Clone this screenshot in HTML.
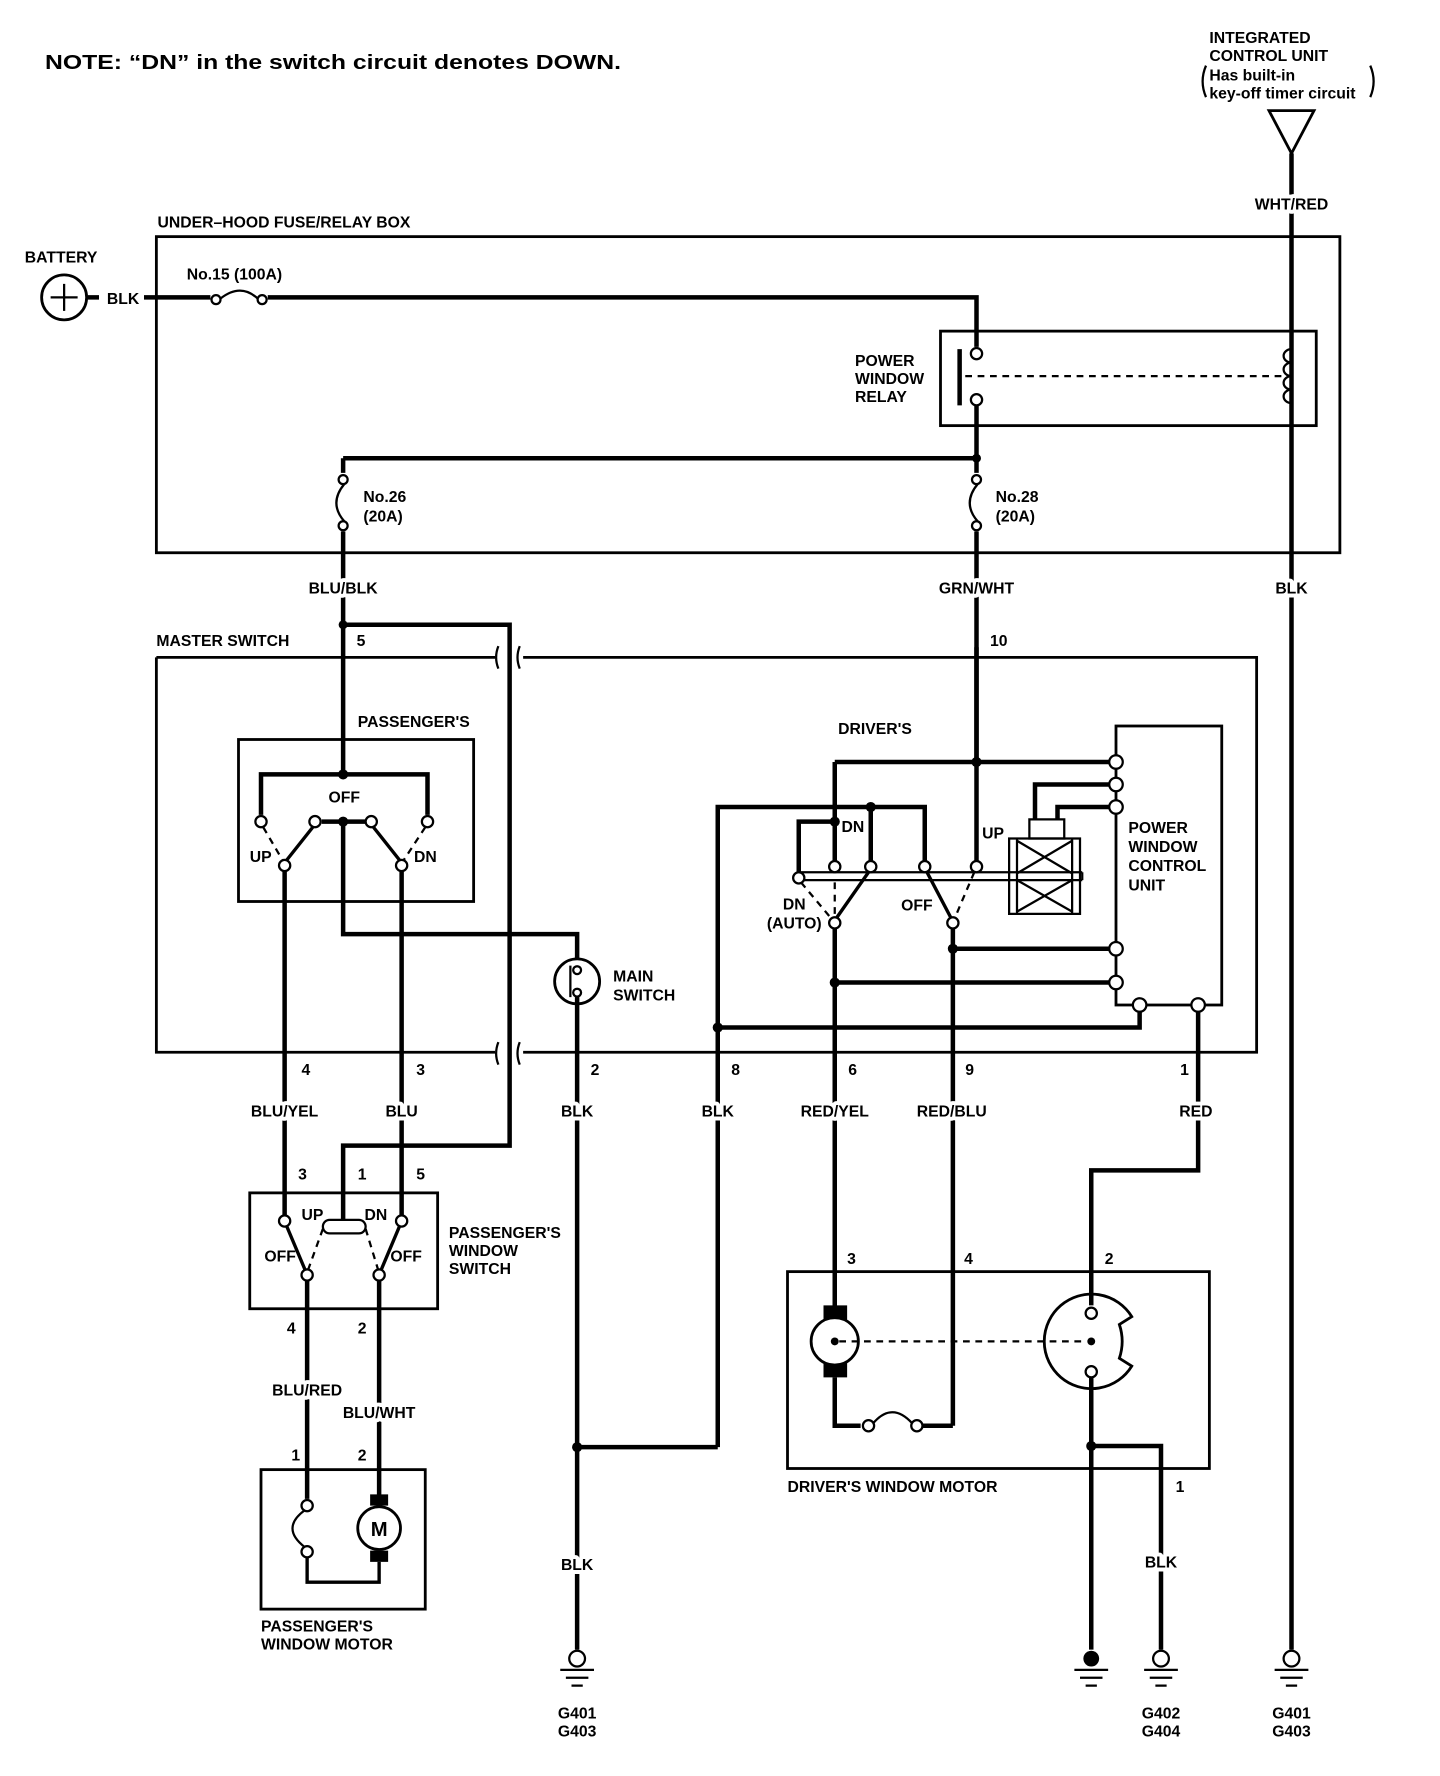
<!DOCTYPE html>
<html><head><meta charset="utf-8"><style>
html,body{margin:0;padding:0;background:#fff;}
svg{display:block;}
text{font-family:"Liberation Sans",sans-serif;font-size:14px;font-weight:bold;fill:#000;}
.h{stroke:#fff;stroke-width:7px;paint-order:stroke;stroke-linejoin:round;}
.w{stroke:#000;stroke-width:4;fill:none;}
.b{stroke:#000;stroke-width:2.5;fill:none;}
.t{stroke:#000;stroke-width:2;fill:none;}
.d{stroke:#000;stroke-width:2;fill:none;stroke-dasharray:6,5;}
.c{stroke:#000;stroke-width:2;fill:#fff;}
.m{text-anchor:middle;}
</style></head><body>
<svg width="1440" height="1776" viewBox="0 0 1280 1578" xmlns="http://www.w3.org/2000/svg">
<text x="40" y="61" style="font-size:18px" textLength="512" lengthAdjust="spacingAndGlyphs">NOTE:  “DN” in the switch circuit denotes DOWN.</text>
<text x="1075" y="38">INTEGRATED</text>
<text x="1075" y="54">CONTROL UNIT</text>
<text x="1075" y="71">Has built-in</text>
<text x="1075" y="87">key-off timer circuit</text>
<path class="t" d="M1072,58 q-6,14 0,28 M1218,58 q6,14 0,28"/>
<path class="b" d="M1128,98 L1168,98 L1148,136 Z"/>
<path class="w" d="M1148,136 V1466"/>
<text x="1148" y="186" class="m h">WHT/RED</text>
<text x="140" y="202">UNDER–HOOD FUSE/RELAY BOX</text>
<rect x="139" y="210" width="1052" height="281" class="b"/>
<text x="22" y="233">BATTERY</text>
<circle cx="57" cy="264" r="20" class="b"/>
<path class="t" d="M45,264 H69 M57,252 V276"/>
<path class="w" d="M78,264 H88 M128,264 H187 M238,264 H868 V308"/>
<text x="95" y="270">BLK</text>
<text x="166" y="248">No.15 (100A)</text>
<circle cx="192" cy="266" r="4" class="c"/><circle cx="233" cy="266" r="4" class="c"/>
<path class="t" d="M196,265 q18,-14 33,0"/>
<rect x="836" y="294" width="334" height="84" class="b"/>
<text x="760" y="325">POWER</text><text x="760" y="341">WINDOW</text><text x="760" y="357">RELAY</text>
<circle cx="868" cy="314" r="5" class="c"/><circle cx="868" cy="355" r="5" class="c"/>
<path class="w" d="M853,310 V360"/>
<path class="d" d="M858,334 H1140"/>
<path class="t" d="M1148,310 a7,6 0 1 0 0,12 a7,6 0 1 0 0,12 a7,6 0 1 0 0,12 a7,6 0 1 0 0,12"/>
<path class="w" d="M868,360 V420 M305,407 H868 M305,407 V420 M305,472 V688 M868,472 V677"/>
<circle cx="868" cy="407" r="4"/>
<circle cx="305" cy="426" r="4" class="c"/><circle cx="305" cy="467" r="4" class="c"/>
<path class="t" d="M306,430 q-14,17 0,33"/>
<circle cx="868" cy="426" r="4" class="c"/><circle cx="868" cy="467" r="4" class="c"/>
<path class="t" d="M869,430 q-14,17 0,33"/>
<text x="323" y="446">No.26</text><text x="323" y="463">(20A)</text>
<text x="885" y="446">No.28</text><text x="885" y="463">(20A)</text>
<text x="305" y="527" class="m h">BLU/BLK</text>
<text x="868" y="527" class="m h">GRN/WHT</text>
<text x="1148" y="527" class="m h">BLK</text>
<text x="139" y="574">MASTER SWITCH</text>
<text x="317" y="574">5</text><text x="880" y="574">10</text>
<path class="b" d="M139,584 H440 M465,584 H1117 V935 H465 M440,935 H139 V584"/>
<path class="t" d="M443,574 q-4,10 0,20 M462,574 q-4,10 0,20 M443,926 q-4,10 0,20 M462,926 q-4,10 0,20"/>
<circle cx="305" cy="555" r="4"/>
<path class="w" d="M305,555 H453 V1018 H305 V1090"/>
<text x="318" y="646">PASSENGER'S</text>
<rect x="212" y="657" width="209" height="144" class="b"/>
<path class="w" d="M232,724 V688 H380 V724 M286,730 H325 M305,730 V830 H513 V852"/>
<circle cx="305" cy="688" r="4.5"/><circle cx="305" cy="730" r="4.5"/>
<circle cx="232" cy="730" r="5" class="c"/><circle cx="280" cy="730" r="5" class="c"/>
<circle cx="330" cy="730" r="5" class="c"/><circle cx="380" cy="730" r="5" class="c"/>
<path class="w" style="stroke-width:3" d="M278,735 L255,764 M332,735 L355,764"/>
<path class="d" d="M234,735 L251,764 M378,735 L359,764"/>
<circle cx="253" cy="769" r="5" class="c"/><circle cx="357" cy="769" r="5" class="c"/>
<text x="306" y="713" class="m">OFF</text><text x="222" y="766">UP</text><text x="368" y="766">DN</text>
<path class="w" d="M253,774 V1080 M357,774 V1080"/>
<circle cx="513" cy="872" r="20" class="b"/>
<circle cx="513" cy="862" r="3.5" class="c"/><circle cx="513" cy="882" r="3.5" class="c"/>
<path class="t" d="M507,858 V886"/>
<path class="w" d="M513,886 V1466"/>
<text x="545" y="872">MAIN</text><text x="545" y="889">SWITCH</text>
<text x="745" y="652">DRIVER'S</text>
<rect x="992" y="645" width="94" height="248" class="b"/>
<text x="1003" y="740">POWER</text><text x="1003" y="757">WINDOW</text><text x="1003" y="774">CONTROL</text><text x="1003" y="791">UNIT</text>
<path class="w" d="M868,575 V765 M742,677 H988 M742,677 V765 M710,776 V730 H742 M638,1286 V717 H822 V765 M774,717 V765"/>
<circle cx="868" cy="677" r="4.5"/><circle cx="742" cy="730" r="4.5"/><circle cx="774" cy="717" r="4.5"/>
<path class="w" d="M988,697 H920 V728 M988,717 H940 V728"/>
<rect x="915" y="728" width="31" height="17" class="t"/>
<rect x="897" y="745" width="63" height="67" class="t"/>
<path class="t" d="M904,745 V812 M953,745 V812 M904,747 L953,776 M953,747 L904,776 M904,782 L953,810 M953,782 L904,810"/>
<path class="t" d="M712,775 H962 M712,782 H962 M962,775 V782"/>
<circle cx="710" cy="780" r="5" class="c"/><circle cx="742" cy="770" r="5" class="c"/>
<circle cx="774" cy="770" r="5" class="c"/><circle cx="822" cy="770" r="5" class="c"/>
<circle cx="868" cy="770" r="5" class="c"/>
<path class="w" style="stroke-width:3" d="M772,775 L744,815 M824,775 L845,815"/>
<path class="d" d="M712,784 L738,815 M742,784 V812 M866,775 L849,815"/>
<circle cx="742" cy="820" r="5" class="c"/><circle cx="847" cy="820" r="5" class="c"/>
<text x="748" y="739">DN</text><text x="873" y="745">UP</text><text x="801" y="809">OFF</text>
<text x="706" y="808" class="m">DN</text><text x="706" y="825" class="m">(AUTO)</text>
<path class="w" d="M742,825 V1165 M742,873 H988 M847,825 V1267 M847,843 H988 M638,913 H1013 V898 M1065,898 V1040 H970 V1160"/>
<circle cx="742" cy="873" r="4.5"/><circle cx="847" cy="843" r="4.5"/><circle cx="638" cy="913" r="4.5"/>
<circle cx="992" cy="677" r="6" class="c"/><circle cx="992" cy="697" r="6" class="c"/><circle cx="992" cy="717" r="6" class="c"/>
<circle cx="992" cy="843" r="6" class="c"/><circle cx="992" cy="873" r="6" class="c"/>
<circle cx="1013" cy="893" r="6" class="c"/><circle cx="1065" cy="893" r="6" class="c"/>
<text x="268" y="955">4</text><text x="370" y="955">3</text><text x="525" y="955">2</text><text x="650" y="955">8</text>
<text x="754" y="955">6</text><text x="858" y="955">9</text><text x="1049" y="955">1</text>
<text x="253" y="992" class="m h">BLU/YEL</text><text x="357" y="992" class="m h">BLU</text><text x="513" y="992" class="m h">BLK</text>
<text x="638" y="992" class="m h">BLK</text><text x="742" y="992" class="m h">RED/YEL</text><text x="846" y="992" class="m h">RED/BLU</text><text x="1063" y="992" class="m h">RED</text>
<text x="265" y="1048">3</text><text x="318" y="1048">1</text><text x="370" y="1048">5</text>
<rect x="222" y="1060" width="167" height="103" class="b"/>
<text x="399" y="1100">PASSENGER'S</text><text x="399" y="1116">WINDOW</text><text x="399" y="1132">SWITCH</text>
<rect x="287" y="1084" width="38" height="12" rx="6" class="t" style="fill:#fff"/>
<circle cx="253" cy="1085" r="5" class="c"/><circle cx="357" cy="1085" r="5" class="c"/>
<path class="w" style="stroke-width:3" d="M255,1090 L271,1128 M355,1090 L339,1128"/>
<path class="d" d="M287,1092 L274,1128 M325,1092 L336,1128"/>
<circle cx="273" cy="1133" r="5" class="c"/><circle cx="337" cy="1133" r="5" class="c"/>
<text x="268" y="1084">UP</text><text x="324" y="1084">DN</text><text x="235" y="1121">OFF</text><text x="347" y="1121">OFF</text>
<text x="255" y="1185">4</text><text x="318" y="1185">2</text>
<path class="w" d="M273,1138 V1332 M337,1138 V1338"/>
<text x="273" y="1240" class="m h">BLU/RED</text><text x="337" y="1260" class="m h">BLU/WHT</text>
<text x="259" y="1298">1</text><text x="318" y="1298">2</text>
<rect x="232" y="1306" width="146" height="124" class="b"/>
<circle cx="273" cy="1338" r="5" class="c"/><circle cx="273" cy="1379" r="5" class="c"/>
<path class="t" d="M271,1342 q-22,16 0,33"/>
<rect x="329" y="1328" width="16" height="10" fill="#000"/><rect x="329" y="1378" width="16" height="10" fill="#000"/>
<circle cx="337" cy="1358" r="19" class="b" style="fill:#fff"/>
<text x="337" y="1365" class="m" style="font-size:18px">M</text>
<path class="w" style="stroke-width:3" d="M337,1388 V1406 H273 V1384"/>
<text x="232" y="1450">PASSENGER'S</text><text x="232" y="1466">WINDOW MOTOR</text>
<text x="753" y="1123">3</text><text x="857" y="1123">4</text><text x="982" y="1123">2</text>
<rect x="700" y="1130" width="375" height="175" class="b"/>
<rect x="732" y="1160" width="21" height="14" fill="#000"/><rect x="732" y="1210" width="21" height="14" fill="#000"/>
<circle cx="742" cy="1192" r="21" class="b" style="fill:#fff"/>
<circle cx="742" cy="1192" r="3.5"/>
<path class="d" d="M746,1192 H966"/>
<path class="w" d="M742,1224 V1267 H765 M820,1267 H847"/>
<circle cx="772" cy="1267" r="5" class="c"/><circle cx="815" cy="1267" r="5" class="c"/>
<path class="t" d="M776,1265 q17,-20 35,0"/>
<path class="b" d="M1006,1170 A42,42 0 1 0 1006,1214 L995,1207 Q1000,1192 995,1177 Z" style="fill:none"/>
<circle cx="970" cy="1192" r="3.5"/>
<circle cx="970" cy="1167" r="5" class="c"/><circle cx="970" cy="1219" r="5" class="c"/>
<path class="w" d="M970,1224 V1466 M970,1285 H1032 V1466 M513,1286 H638"/>
<circle cx="970" cy="1285" r="4.5"/><circle cx="513" cy="1286" r="4.5"/>
<text x="700" y="1326">DRIVER'S WINDOW MOTOR</text>
<text x="1045" y="1326">1</text>
<text x="513" y="1395" class="m h">BLK</text><text x="1032" y="1393" class="m h">BLK</text>
<circle cx="513" cy="1474" r="7" class="c"/><path class="t" d="M498,1484 H528 M503,1491 H523 M508,1498 H518"/>
<circle cx="970" cy="1474" r="7"/><path class="t" d="M955,1484 H985 M960,1491 H980 M965,1498 H975"/>
<circle cx="1032" cy="1474" r="7" class="c"/><path class="t" d="M1017,1484 H1047 M1022,1491 H1042 M1027,1498 H1037"/>
<circle cx="1148" cy="1474" r="7" class="c"/><path class="t" d="M1133,1484 H1163 M1138,1491 H1158 M1143,1498 H1153"/>
<text x="513" y="1527" class="m">G401</text><text x="513" y="1543" class="m">G403</text>
<text x="1032" y="1527" class="m">G402</text><text x="1032" y="1543" class="m">G404</text>
<text x="1148" y="1527" class="m">G401</text><text x="1148" y="1543" class="m">G403</text>
</svg>
</body></html>
